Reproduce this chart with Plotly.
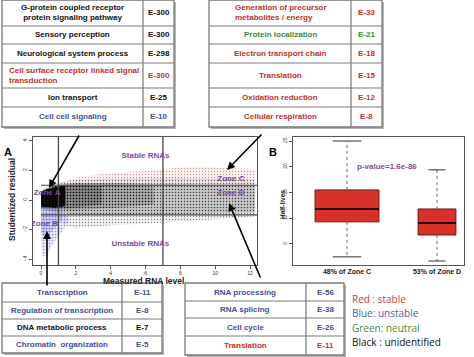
import plotly.graph_objects as go

W, H = 474, 357
def PX(x): return x / W
def PY(y): return 1 - y / H

RED = "#c3302e"; BLUE = "#3f4f9b"; GREEN = "#3a8a3e"; BLACK = "#111111"; PURPLE = "#7b4a9e"
FONT = "Liberation Sans"

# ---------------- data ----------------
tl_terms = ["G-protein coupled receptor<br>protein signaling pathway", "Sensory perception",
            "Neurological system process", "Cell surface receptor linked signal<br>transduction",
            "Ion transport", "Cell cell signaling"]
tl_pvals = ["E-300", "E-300", "E-298", "E-300", "E-25", "E-10"]
tl_cols = [BLACK, BLACK, BLACK, RED, BLACK, BLUE]

tr_terms = ["Generation of precursor<br>metabolites / energy", "Protein localization",
            "Electron transport chain", "Translation", "Oxidation reduction", "Cellular respiration"]
tr_pvals = ["E-33", "E-21", "E-18", "E-15", "E-12", "E-8"]
tr_cols = [RED, GREEN, RED, RED, RED, RED]

bl_terms = ["Transcription", "Regulation of transcription", "DNA metabolic process", "Chromatin  organization"]
bl_pvals = ["E-11", "E-8", "E-7", "E-5"]
bl_cols = [BLUE, BLUE, BLACK, BLUE]

bm_terms = ["RNA processing", "RNA splicing", "Cell cycle", "Translation"]
bm_pvals = ["E-56", "E-38", "E-26", "E-11"]
bm_cols = [BLUE, BLUE, BLUE, RED]

legend_text = ["Red : stable", "Blue: unstable", "Green: neutral", "Black : unidentified"]
legend_cols = ["#c9403c", "#4d5fa3", "#4a8a44", "#111111"]

# Panel A scatter cloud outlines (measured RNA level, studentized residual)
pink_x = [1.2, 2, 3, 4, 6, 8, 10, 12.3, 12.3, 1.2]
pink_y = [1.2, 1.5, 1.7, 1.8, 2.0, 2.2, 2.2, 2.1, 1.0, 1.0]
faint_x = [0, 0.4, 1, 2, 4, 6, 8, 10, 12.3, 12.3, 10, 8, 6, 4, 2, 1.3, 1.0, 0.4, 0]
faint_y = [0.6, 0.95, 1.2, 1.35, 1.45, 1.5, 1.5, 1.45, 1.4, -1.1, -1.3, -1.45, -1.6, -1.7, -1.9, -1.7, -1.0, -0.7, -0.6]
mid_x = [0, 0.5, 1, 2, 4, 6, 8, 10, 12.3, 12.3, 10, 8, 6, 4, 2, 1, 0]
mid_y = [0.6, 0.9, 1.05, 1.15, 1.15, 1.1, 1.05, 1.0, 1.0, -0.85, -0.9, -0.95, -1.0, -1.0, -1.0, -0.8, -0.6]
dark_x = [0, 0.5, 1, 2, 3, 4.5, 6.5, 6.5, 4.5, 3, 2, 1, 0]
dark_y = [0.6, 0.85, 1.0, 1.05, 1.05, 1.0, 0.9, -0.3, -0.5, -0.6, -0.7, -0.65, -0.6]
dark2_x = [0, 0.5, 1, 2, 3.5, 3.5, 2, 1, 0]
dark2_y = [0.6, 0.85, 1.0, 1.0, 0.95, -0.3, -0.5, -0.6, -0.55]
core_x = [0, 0.3, 0.7, 1.0, 1.4, 1.4, 1.0, 0.7, 0]
core_y = [0.55, 0.7, 0.85, 0.92, 0.95, -0.4, -0.5, -0.5, -0.45]
blue_x = [0, 0.6, 1.3, 1.6, 1.3, 0.9, 0.55, 0.3, 0.05, 0]
blue_y = [-0.5, -0.55, -0.7, -1.3, -2.0, -2.6, -3.2, -3.9, -3.7, -2.0]
blue2_x = [0, 0.6, 1.2, 1.2, 0.7, 0.3, 0]
blue2_y = [-0.45, -0.5, -0.7, -1.4, -2.0, -2.6, -2.2]
thr_x = [1, 7]          # vertical cut-offs on RNA level
thr_y = [-1, 1]         # residual cut-offs

# Panel B boxplot stats (half-lives)
box_labels = ["48% of Zone C", "53% of Zone D"]
box_pos = [1, 2]
box_low = [2.5, 1.7]
box_q1 = [9.3, 6.75]
box_med = [11.8, 9.1]
box_q3 = [15.5, 11.8]
box_high = [25.0, 19.4]
box_w = [0.71, 0.42]

fig = go.Figure()

# ---------------- Panel A ----------------
layers = [(pink_x, pink_y, "rgba(200,110,110,0.7)", "rgba(215,150,150,0.12)", 3, 0.15),
          (faint_x, faint_y, "rgba(60,60,60,0.6)", "rgba(0,0,0,0.06)", 3, 0.15),
          (mid_x, mid_y, "rgba(20,20,20,0.6)", "rgba(0,0,0,0.16)", 3, 0.2),
          (dark_x, dark_y, "rgba(0,0,0,0.6)", "rgba(0,0,0,0.14)", 3, 0.2),
          (dark2_x, dark2_y, "rgba(0,0,0,0.6)", "rgba(0,0,0,0.2)", 3, 0.2),
          (core_x, core_y, "rgba(0,0,0,1)", "rgba(0,0,0,0.85)", 2, 0.5),
          (blue_x, blue_y, "rgba(90,100,210,0.6)", "rgba(120,130,220,0.16)", 3, 0.25),
          (blue2_x, blue2_y, "rgba(80,90,200,0.6)", "rgba(100,110,215,0.22)", 3, 0.25)]
for lx, ly, fg, bg, sz, sol in layers:
    fig.add_trace(go.Scatter(x=lx, y=ly, fill="toself", fillcolor=bg, mode="none",
                             fillpattern=dict(shape=".", fgcolor=fg, bgcolor=bg,
                                              size=sz, solidity=sol, fillmode="replace"),
                             hoverinfo="skip", showlegend=False, xaxis="x", yaxis="y"))

for v in thr_x:
    fig.add_trace(go.Scatter(x=[v, v], y=[-4.39, 4.26], mode="lines",
                             line=dict(color="#444", width=1.3), showlegend=False, xaxis="x", yaxis="y"))
for v in thr_y:
    fig.add_trace(go.Scatter(x=[0, 12.4], y=[v, v], mode="lines",
                             line=dict(color="#444", width=1.1), showlegend=False, xaxis="x", yaxis="y"))

zone_text = ["Stable RNAs", "Unstable RNAs", "Zone A", "Zone B", "Zone C", "Zone D"]
zone_x = [6.0, 5.7, 0.35, 0.2, 10.9, 10.9]
zone_y = [3.0, -3.0, 0.45, -1.6, 1.45, 0.5]
fig.add_trace(go.Scatter(x=zone_x, y=zone_y, mode="text", text=["<b>%s</b>" % t for t in zone_text],
                         textfont=dict(family=FONT, size=8, color=PURPLE), showlegend=False,
                         xaxis="x", yaxis="y"))

# ---------------- Panel B ----------------
for i in range(2):
    fig.add_trace(go.Box(x=[box_pos[i]], q1=[box_q1[i]], median=[box_med[i]], q3=[box_q3[i]],
                         lowerfence=[box_q1[i]], upperfence=[box_q3[i]], width=box_w[i],
                         fillcolor="#d9302a", line=dict(color="#6a1a14", width=1),
                         whiskerwidth=0, showlegend=False, xaxis="x2", yaxis="y2"))
    p = box_pos[i]; hw = box_w[i] / 2
    fig.add_trace(go.Scatter(x=[p - hw, p + hw], y=[box_med[i]] * 2, mode="lines",
                             line=dict(color="#2a0a08", width=2), showlegend=False, xaxis="x2", yaxis="y2"))
    for a, b in [(box_q3[i], box_high[i]), (box_q1[i], box_low[i])]:
        fig.add_trace(go.Scatter(x=[p, p], y=[a, b], mode="lines",
                                 line=dict(color="#666", width=1, dash="dot"), showlegend=False,
                                 xaxis="x2", yaxis="y2"))
    cw = hw * 0.45
    for v in [box_high[i], box_low[i]]:
        fig.add_trace(go.Scatter(x=[p - cw, p + cw], y=[v, v], mode="lines",
                                 line=dict(color="#333", width=1), showlegend=False, xaxis="x2", yaxis="y2"))

ax_common = dict(showline=True, linecolor="#555", linewidth=1, mirror=True, ticks="outside",
                 ticklen=3, tickcolor="#555", showgrid=False, zeroline=False,
                 tickfont=dict(family=FONT, size=5, color="#333"))
fig.update_layout(
    width=W, height=H, margin=dict(l=0, r=0, t=0, b=0), paper_bgcolor="white", plot_bgcolor="white",
    xaxis=dict(domain=[PX(33), PX(257)], range=[-0.46, 12.4], tickvals=[0, 2, 4, 6, 8, 10, 12],
               anchor="y", **ax_common),
    yaxis=dict(domain=[PY(265), PY(137)], range=[-4.39, 4.26], tickvals=[-4, -2, 0, 2, 4],
               tickangle=-90, anchor="x", **ax_common),
    xaxis2=dict(domain=[PX(293), PX(464)], range=[0.4, 2.3], tickvals=box_pos,
                ticktext=["<b>%s</b>" % t for t in box_labels], anchor="y2",
                showline=True, linecolor="#555", linewidth=1, mirror=True, ticks="",
                showgrid=False, zeroline=False, tickfont=dict(family=FONT, size=7, color="#222")),
    yaxis2=dict(domain=[PY(265), PY(137)], range=[0.92, 25.78], tickvals=[5, 10, 15, 20, 25],
                tickangle=-90, anchor="x2", **ax_common),
)

shapes = []
ann = []

def A(**kw):
    d = dict(xref="paper", yref="paper", showarrow=False, xanchor="center", yanchor="middle")
    d.update(kw)
    ann.append(d)

def table(x0, xd, x1, rows, terms, pvals, cols, left_align=None):
    left_align = left_align or {}
    shapes.append(dict(type="rect", xref="paper", yref="paper", x0=PX(x0 + 2), x1=PX(x1 + 2),
                       y0=PY(rows[-1] + 2), y1=PY(rows[0] + 2), fillcolor="#b5b5b5", line=dict(width=0),
                       layer="below"))
    shapes.append(dict(type="rect", xref="paper", yref="paper", x0=PX(x0), x1=PX(x1),
                       y0=PY(rows[-1]), y1=PY(rows[0]), fillcolor="white",
                       line=dict(color="#7a7a7a", width=1.3), layer="below"))
    shapes.append(dict(type="line", xref="paper", yref="paper", x0=PX(xd), x1=PX(xd),
                       y0=PY(rows[-1]), y1=PY(rows[0]), line=dict(color="#7a7a7a", width=1.2)))
    for r in rows[1:-1]:
        shapes.append(dict(type="line", xref="paper", yref="paper", x0=PX(x0), x1=PX(x1),
                           y0=PY(r), y1=PY(r), line=dict(color="#7a7a7a", width=1.2)))
    for i, (t, p, c) in enumerate(zip(terms, pvals, cols)):
        ym = (rows[i] + rows[i + 1]) / 2
        if i in left_align:
            A(x=PX(left_align[i]), y=PY(ym), xanchor="left", align="left",
              text="<b>%s</b>" % t, font=dict(family=FONT, size=8, color=c))
        else:
            A(x=PX((x0 + xd) / 2), y=PY(ym), text="<b>%s</b>" % t, font=dict(family=FONT, size=8, color=c))
        A(x=PX((xd + x1) / 2), y=PY(ym), text="<b>%s</b>" % p, font=dict(family=FONT, size=8, color=c))

table(2, 143, 174, [0, 26, 44, 63, 88, 107, 127], tl_terms, tl_pvals, tl_cols, {3: 7})
table(209, 351, 382, [0, 26, 44, 63, 88, 107, 127], tr_terms, tr_pvals, tr_cols, {0: 233})
table(2, 122, 162, [283, 302, 319, 336, 353], bl_terms, bl_pvals, bl_cols)
table(185, 306, 344, [283, 301, 318, 336, 355], bm_terms, bm_pvals, bm_cols)

for i, (t, c) in enumerate(zip(legend_text, legend_cols)):
    A(x=PX(350), y=PY(299 + i * 14.3), xanchor="left", text=t,
      font=dict(family="Open Sans", size=10, color=c))

A(x=PX(8), y=PY(152), text="<b>A</b>", font=dict(family=FONT, size=11, color="black"))
A(x=PX(273), y=PY(152), text="<b>B</b>", font=dict(family=FONT, size=11, color="black"))
A(x=PX(12), y=PY(200), text="<b>Studentized residual</b>", textangle=-90,
  font=dict(family=FONT, size=8.5, color="#222"))
A(x=PX(143), y=PY(281), text="<b>Measured RNA level</b>", font=dict(family=FONT, size=8.5, color="#222"))
A(x=PX(283), y=PY(205), text="<b>Half-lives</b>", textangle=-90, font=dict(family=FONT, size=6.5, color="#222"))
A(x=PX(387), y=PY(166), text="<b>p-value=1.6e-86</b>", font=dict(family=FONT, size=8, color=PURPLE))

for (tx, ty), (hx, hy) in [((80, 134), (49, 188)), ((263, 133), (227, 170)),
                           ((47, 287), (47, 231)), ((261, 279), (229, 203))]:
    ann.append(dict(x=PX(hx), y=PY(hy), ax=tx - hx, ay=ty - hy, xref="paper", yref="paper",
                    showarrow=True, arrowhead=2, arrowsize=1, arrowwidth=1.6, arrowcolor="black", text=""))

fig.update_layout(shapes=shapes, annotations=ann)
fig.write_html("out.html", post_script="document.body.style.margin='0';",
               config={"displayModeBar": False})
